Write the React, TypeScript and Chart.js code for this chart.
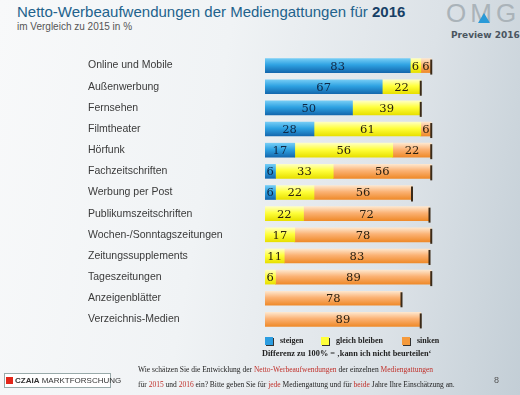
import React, { useEffect, useRef } from "react";
import { Chart, registerables } from "chart.js";
Chart.register(...registerables);

const categories = [
  "Online und Mobile",
  "Außenwerbung",
  "Fernsehen",
  "Filmtheater",
  "Hörfunk",
  "Fachzeitschriften",
  "Werbung per Post",
  "Publikumszeitschriften",
  "Wochen-/Sonntagszeitungen",
  "Zeitungssupplements",
  "Tageszeitungen",
  "Anzeigenblätter",
  "Verzeichnis-Medien",
];
const steigen = [83, 67, 50, 28, 17, 6, 6, null, null, null, null, null, null];
const gleichBleiben = [6, 22, 39, 61, 56, 33, 22, 22, 17, 11, 6, null, null];
const sinken = [6, null, null, 6, 22, 56, 56, 72, 78, 83, 89, 78, 89];
const seriesNames = ["steigen", "gleich bleiben", "sinken"];
const gradientStops = [
  ["#74ccf5", "#2ea2e2", "#1468ae"],
  ["#ffffc0", "#ffff3c", "#e8e000"],
  ["#fee6cc", "#fbb274", "#ef8a2a"],
];
const BAR_H = 14;

function makeGrad(stops: string[]) {
  return (ctx: any) => {
    const chart = ctx.chart;
    const ys = chart.scales && chart.scales.y;
    if (!ys || ctx.dataIndex === undefined) return stops[1];
    const cy = ys.getPixelForValue(ctx.dataIndex);
    if (!isFinite(cy)) return stops[1];
    const g = chart.ctx.createLinearGradient(0, cy - BAR_H / 2, 0, cy + BAR_H / 2);
    g.addColorStop(0, stops[0]);
    g.addColorStop(0.45, stops[1]);
    g.addColorStop(1, stops[2]);
    return g;
  };
}

const labelPlugin = {
  id: "valueLabels",
  afterDatasetsDraw(chart: any) {
    const ctx = chart.ctx;
    const n = chart.data.labels.length;
    for (let i = 0; i < n; i++) {
      let maxX = -1;
      let y = 0;
      chart.data.datasets.forEach((ds: any, di: number) => {
        const v = ds.data[i];
        if (v) {
          const el = chart.getDatasetMeta(di).data[i];
          if (el.x > maxX) {
            maxX = el.x;
            y = el.y;
          }
        }
      });
      if (maxX > 0) {
        ctx.save();
        ctx.fillStyle = "#3a2a18";
        ctx.fillRect(maxX - 1, y - BAR_H / 2 + 1, 2, BAR_H + 1);
        ctx.restore();
      }
    }
    ctx.save();
    ctx.font = "11.5px 'DejaVu Serif'";
    ctx.textAlign = "center";
    ctx.textBaseline = "middle";
    chart.data.datasets.forEach((ds: any, di: number) => {
      const meta = chart.getDatasetMeta(di);
      meta.data.forEach((el: any, i: number) => {
        const v = ds.data[i];
        if (!v) return;
        ctx.fillStyle = di === 0 ? "#0f2744" : "#2a2010";
        ctx.fillText(String(v), (el.x + el.base) / 2, el.y + 1);
      });
    });
    ctx.restore();
  },
};

function BarChart() {
  const ref = useRef<HTMLCanvasElement>(null);
  useEffect(() => {
    if (!ref.current) return;
    const chart = new Chart(ref.current, {
      type: "bar",
      data: {
        labels: categories,
        datasets: [steigen, gleichBleiben, sinken].map((d, i) => ({
          label: seriesNames[i],
          data: d,
          backgroundColor: makeGrad(gradientStops[i]),
          borderWidth: 0,
          barThickness: BAR_H,
        })),
      },
      options: {
        responsive: false,
        animation: false,
        indexAxis: "y",
        layout: { padding: { left: 88, right: 80, top: 55, bottom: 65 } },
        plugins: { legend: { display: false }, tooltip: { enabled: false } },
        scales: {
          x: { stacked: true, min: 0, max: 100, display: false },
          y: {
            stacked: true,
            grid: { display: false },
            border: { display: false },
            ticks: {
              crossAlign: "far",
              color: "#3a3a3a",
              padding: 0,
              font: { family: "'Liberation Sans'", size: 10.5 },
            },
            afterFit: (s: any) => {
              s.width = 177;
            },
          },
        },
      },
      plugins: [labelPlugin],
    } as any);
    return () => chart.destroy();
  }, []);
  return (
    <canvas
      ref={ref}
      width={520}
      height={395}
      style={{ position: "absolute", left: 0, top: 0, width: 520, height: 395 }}
    />
  );
}

const red = { color: "#c0302a" };

export default function App() {
  return (
    <div
      style={{
        position: "fixed",
        left: 0,
        top: 0,
        width: 520,
        height: 395,
        overflow: "hidden",
        background:
          "linear-gradient(100deg, #f8f9fa 0%, #f0f3f5 40%, #dce2e7 75%, #c3ced6 100%)",
        fontFamily: "'Liberation Sans', sans-serif",
      }}
    >
      <div
        style={{
          position: "absolute",
          left: 17,
          top: 3,
          fontSize: 15,
          lineHeight: "18px",
          color: "#22628c",
          whiteSpace: "nowrap",
        }}
      >
        Netto-Werbeaufwendungen der Mediengattungen für{" "}
        <b style={{ color: "#173f66" }}>2016</b>
      </div>
      <div
        style={{
          position: "absolute",
          left: 17,
          top: 21,
          fontSize: 10,
          lineHeight: "12px",
          color: "#555",
          whiteSpace: "nowrap",
        }}
      >
        im Vergleich zu 2015 in %
      </div>
      <div
        style={{
          position: "absolute",
          left: 446,
          top: -2,
          fontSize: 26,
          lineHeight: "30px",
          color: "#aab3b9",
          letterSpacing: 4,
          whiteSpace: "nowrap",
        }}
      >
        OMG
      </div>
      <div
        style={{
          position: "absolute",
          left: 478,
          top: 13,
          width: 0,
          height: 0,
          borderLeft: "6px solid transparent",
          borderRight: "6px solid transparent",
          borderBottom: "10px solid #2a9ad8",
        }}
      />
      <div
        style={{
          position: "absolute",
          left: 451,
          top: 29,
          fontSize: 9,
          fontWeight: "bold",
          lineHeight: "12px",
          color: "#4a5560",
          whiteSpace: "nowrap",
          fontFamily: "'DejaVu Sans', sans-serif",
        }}
      >
        Preview 2016
      </div>

      <BarChart />

      {[
        { x: 265, c: "#2c9de0", t: seriesNames[0] },
        { x: 321, c: "#ffff3a", t: seriesNames[1] },
        { x: 402, c: "#f59a3c", t: seriesNames[2] },
      ].map((it) => (
        <React.Fragment key={it.t}>
          <div
            style={{
              position: "absolute",
              left: it.x,
              top: 337,
              width: 8,
              height: 8,
              background: it.c,
              boxShadow: "1px 1px 0 #333",
            }}
          />
          <div
            style={{
              position: "absolute",
              left: it.x + 15,
              top: 336,
              fontSize: 8,
              lineHeight: "10px",
              fontWeight: "bold",
              color: "#222",
              fontFamily: "'Liberation Serif', serif",
              whiteSpace: "nowrap",
            }}
          >
            {it.t}
          </div>
        </React.Fragment>
      ))}
      <div
        style={{
          position: "absolute",
          left: 262,
          top: 349,
          fontSize: 8.3,
          lineHeight: "10px",
          fontWeight: "bold",
          color: "#222",
          fontFamily: "'Liberation Serif', serif",
          whiteSpace: "nowrap",
        }}
      >
        Differenz zu 100% = ‚kann ich nicht beurteilen‘
      </div>

      <div
        style={{
          position: "absolute",
          left: 4,
          top: 373,
          width: 107,
          height: 15,
          background: "#fff",
          border: "1px solid #9aa",
          boxSizing: "border-box",
        }}
      >
        <div
          style={{
            position: "absolute",
            left: 1,
            top: 3,
            width: 7,
            height: 7,
            background: "#e2261a",
          }}
        />
        <div
          style={{
            position: "absolute",
            left: 10,
            top: 1,
            fontSize: 8,
            lineHeight: "11px",
            color: "#333",
            whiteSpace: "nowrap",
          }}
        >
          <b>CZAIA</b> MARKTFORSCHUNG
        </div>
      </div>
      <div
        style={{
          position: "absolute",
          left: 138,
          top: 362,
          fontSize: 7.5,
          lineHeight: "15px",
          color: "#222",
          fontFamily: "'Liberation Serif', serif",
          whiteSpace: "nowrap",
        }}
      >
        Wie schätzen Sie die Entwicklung der <span style={red}>Netto-Werbeaufwendungen</span> der einzelnen{" "}
        <span style={red}>Mediengattungen</span>
        <br />
        für <span style={red}>2015</span> und <span style={red}>2016</span> ein? Bitte geben Sie für{" "}
        <span style={red}>jede</span> Mediengattung und für <span style={red}>beide</span> Jahre Ihre
        Einschätzung an.
      </div>
      <div
        style={{
          position: "absolute",
          left: 494,
          top: 374,
          fontSize: 9,
          lineHeight: "12px",
          color: "#555",
        }}
      >
        8
      </div>
    </div>
  );
}
